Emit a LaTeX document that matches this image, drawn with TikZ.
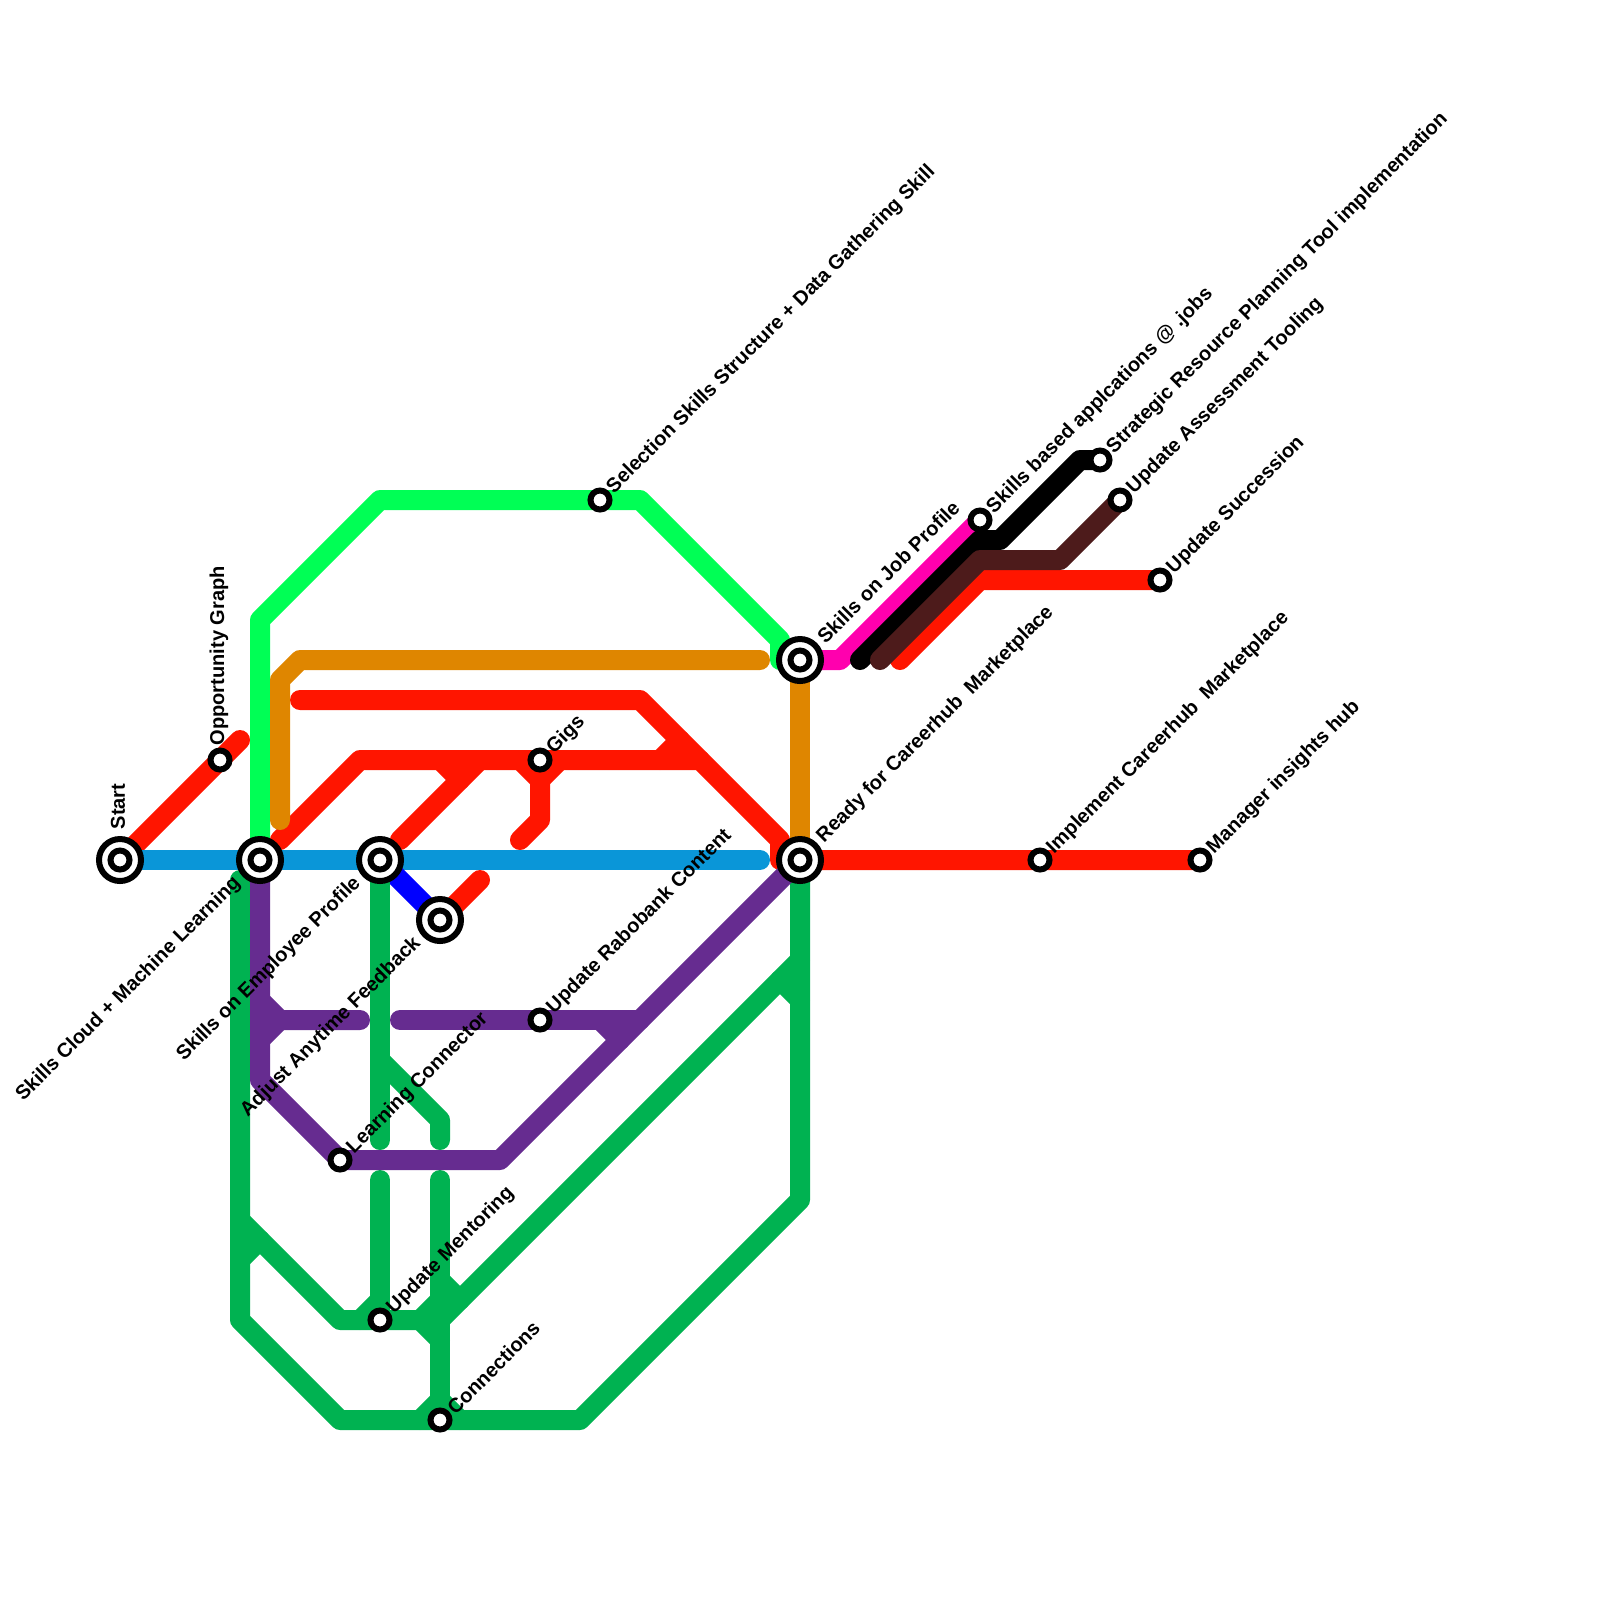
\documentclass[tikz,border=0pt]{standalone}
\usepackage{fontspec}
\setmainfont{Liberation Sans}
\usetikzlibrary{backgrounds}
\definecolor{linered}{RGB}{255,21,0}
\definecolor{lineblue}{RGB}{10,150,216}
\definecolor{linedeep}{RGB}{0,0,255}
\definecolor{linelime}{RGB}{0,255,85}
\definecolor{linegreen}{RGB}{0,178,81}
\definecolor{linepurple}{RGB}{102,44,144}
\definecolor{lineorange}{RGB}{223,134,0}
\definecolor{linepink}{RGB}{255,0,174}
\definecolor{linebrown}{RGB}{77,27,27}
\tikzset{
  stop/.style={circle,draw=black,fill=white,line width=.06cm,minimum size=.19cm,inner sep=0pt,outer sep=0pt},
  routeline/.style={line width=.2cm,line cap=round,line join=round},
  basetext/.style={font=\fontsize{5.7}{7}\bfseries\selectfont,inner sep=0pt},
  stoptext/.style={basetext,rotate=45,anchor=west},
  lefttext/.style={basetext,rotate=45,anchor=east},
  uptext/.style={basetext,rotate=90,anchor=west}
}
\begin{document}
\begin{tikzpicture}[x=.2cm,y=-.2cm]
    \useasboundingbox (0,0) rectangle (80,80);
    % big stops
    \foreach \n/\x/\y in {start/6/43,cloud/13/43,employee/19/43,feedback/22/46,jobprofile/40/33,ready/40/43} {
      \node[stop,minimum size=.42cm] (\n) at (\x,\y) {};
      \node[stop] (\n inner) at (\x,\y) {};
    }
    % small stops
    \foreach \n/\x/\y in {graph/11/38,gigs/27/38,selection/30/25,rabobank/27/51,learning/17/58,mentoring/19/66,connections/22/71,
      based/49/26,strategic/55/23,assessment/56/25,succession/58/29,careerhub/52/43,manager/60/43} {
      \node[stop] (\n) at (\x,\y) {};
    }
    \begin{scope}[on background layer]
      % lime
      \draw[routeline,linelime] (cloud.center)--(13,31)--(19,25)--(selection.center)--(32,25)--(39,32)--(39,33)--(jobprofile.center);
      % red
      \draw[routeline,linered] (start.center)--(graph.center)--(12,37);
      \draw[routeline,linered] (14,42)--(18,38)--(gigs.center)--(35,38)--(39,42)--(39,43)--(ready.center)--(careerhub.center)--(manager.center);
      \draw[routeline,linered] (15,35)--(32,35)--(35,38);
      \draw[routeline,linered] (33,38)--(34,37);
      \draw[routeline,linered] (20,42)--(24,38);
      \draw[routeline,linered] (22,38)--(23,39);
      \draw[routeline,linered] (26,38)--(27,39)--(27,41)--(26,42);
      \draw[routeline,linered] (28,38)--(27,39);
      \draw[routeline,linered] (feedback.center)--(24,44);
      \draw[routeline,linered] (45,33)--(49,29)--(succession.center);
      % blue
      \draw[routeline,lineblue] (start.center)--(38,43);
      \draw[routeline,linedeep] (employee.center)--(feedback.center);
      % orange
      \draw[routeline,lineorange] (38,33)--(15,33)--(14,34)--(14,41);
      \draw[routeline,lineorange] (jobprofile.center)--(ready.center);
      % green
      \draw[routeline,linegreen] (12,44)--(12,66)--(17,71)--(connections.center)--(29,71)--(40,60)--(ready.center);
      \draw[routeline,linegreen] (12,61)--(17,66)--(mentoring.center)--(22,66)--(40,48);
      \draw[routeline,linegreen] (13,62)--(12,63);
      \draw[routeline,linegreen] (employee.center)--(19,57);
      \draw[routeline,linegreen] (19,53)--(22,56)--(22,57);
      \draw[routeline,linegreen] (19,59)--(mentoring.center);
      \draw[routeline,linegreen] (18,66)--(19,65);
      \draw[routeline,linegreen] (22,59)--(connections.center);
      \foreach \a/\b/\c/\d in {22/64/23/65,21/66/22/65,21/66/22/67,21/71/22/70,23/71/22/70,39/49/40/50} {
        \draw[routeline,linegreen] (\a,\b)--(\c,\d);
      }
      % purple
      \draw[routeline,linepurple] (cloud.center)--(13,54)--(learning.center)--(25,58)--(ready.center);
      \draw[routeline,linepurple] (13,50)--(14,51)--(18,51);
      \draw[routeline,linepurple] (14,51)--(13,52);
      \draw[routeline,linepurple] (20,51)--(rabobank.center)--(32,51);
      \draw[routeline,linepurple] (30,51)--(31,52);
      % right
      \draw[routeline,linepink] (jobprofile.center)--(42,33)--(based.center);
      \draw[routeline,black] (43,33)--(49,27)--(50,27)--(54,23)--(strategic.center);
      \draw[routeline,linebrown] (44,33)--(49,28)--(53,28)--(assessment.center);
    \end{scope}
    % labels
    \node[uptext] (startlabel) at (5.9,41.5) {Start};
    \node[uptext] (graphlabel) at (10.95,37.3) {Opportunity Graph};
    \node[lefttext] (cloudlabel) at (11.9,44) {Skills Cloud + Machine Learning};
    \node[lefttext] (employeelabel) at (17.9,44) {Skills on Employee Profile};
    \node[lefttext] (feedbacklabel) at (20.9,47) {Adjust Anytime Feedback};
    \foreach \n/\x/\y/\t in {gigs/27.5/37.55/Gigs,
      selection/30.5/24.55/Selection Skills Structure + Data Gathering Skill,
      rabobank/27.5/50.55/Update Rabobank Content,
      learning/17.5/57.55/Learning Connector,
      mentoring/19.5/65.55/Update Mentoring,
      connections/22.5/70.55/Connections,
      based/49.5/25.55/Skills based applcations @ .jobs,
      strategic/55.5/22.55/Strategic Resource Planning Tool implementation,
      assessment/56.5/24.55/Update Assessment Tooling,
      succession/58.5/28.55/Update Succession,
      manager/60.5/42.55/Manager insights hub,
      jobprofile/41/32/Skills on Job Profile} {
      \node[stoptext] (\n label) at (\x,\y) {\t};
    }
    \node[stoptext] (readylabel) at (41,42) {Ready for Careerhub\ \ Marketplace};
    \node[stoptext] (careerhublabel) at (52.5,42.55) {Implement Careerhub\ \ Marketplace};
\end{tikzpicture}
\end{document}
